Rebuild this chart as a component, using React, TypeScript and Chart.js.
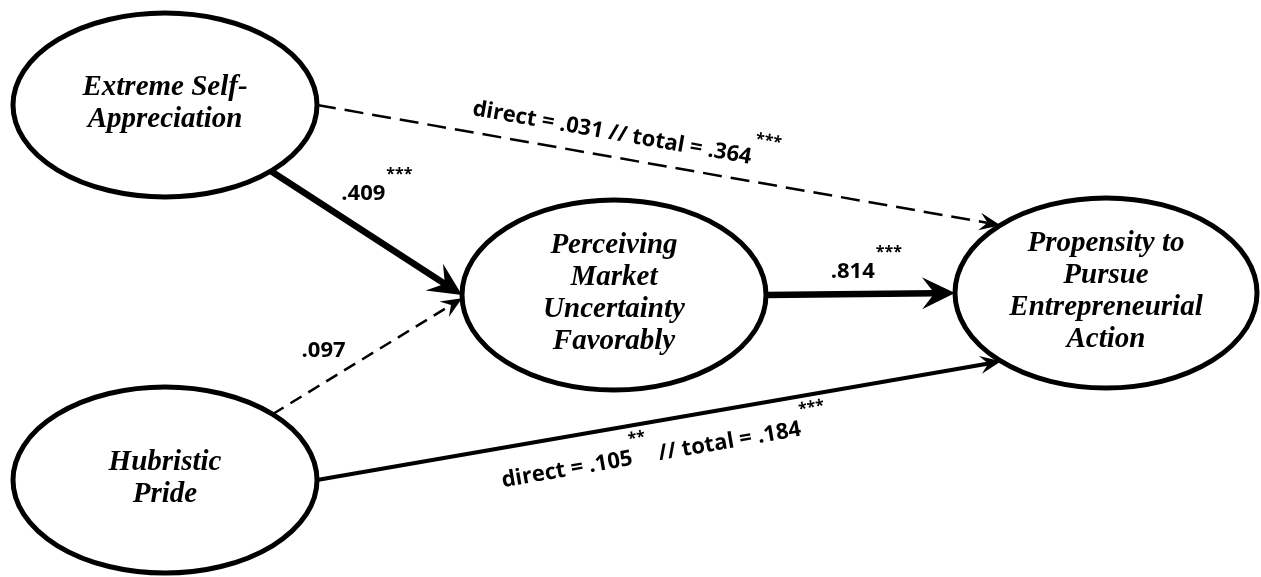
import React, { useEffect, useRef } from "react";
import { Chart, registerables } from "chart.js";

Chart.register(...registerables);

// Latent constructs of the path model
const nodeNames = [
  ["Extreme Self-", "Appreciation"],
  ["Perceiving", "Market", "Uncertainty", "Favorably"],
  ["Propensity to", "Pursue", "Entrepreneurial", "Action"],
  ["Hubristic", "Pride"],
];
const nodeX = [165, 614, 1106, 165];
const nodeY = [105, 295, 293, 480];
const nodeRx = [152, 152, 151, 152];
const nodeRy = [92, 95, 95, 93];

// Structural paths (source -> target) with standardized coefficients
const pathFrom = [0, 3, 1, 0, 3];
const pathTo = [1, 1, 2, 2, 2];
const directEffect = [0.409, 0.097, 0.814, 0.031, 0.105];
const directStars = ["***", "", "***", "", "**"];
const totalEffect: (number | null)[] = [null, null, null, 0.364, 0.184];
const totalStars = ["", "", "", "***", "***"];

// Where each path leaves / meets its ellipse (degrees, screen orientation)
const fromAngle = [45.9, -45, 0, 0, 0];
const toAngle = [180, 178, 180, 225.6, 134];

// Coefficient label placement along each path
const labelAt = [0.41, 0.33, 0.46, 0.222, 0.262];
const labelOffset = [26, 22, 16, 17, -39];
const labelAlong = [false, false, false, true, true];

const fmt = (v: number) => v.toFixed(3).replace(/^0/, "");

const NODE_FONT = 'bold italic 29px "Liberation Serif"';
const LABEL_FONT = 'bold 22px "Open Sans"';
const STAR_FONT = 'bold 16px "Open Sans"';

const pathDiagram = {
  id: "pathDiagram",
  afterDatasetsDraw(chart: any) {
    const { ctx, scales } = chart;
    const xs = scales.x;
    const ys = scales.y;
    const px = (v: number) => xs.getPixelForValue(v);
    const py = (v: number) => ys.getPixelForValue(v);

    const ell = nodeX.map((cx, i) => ({
      cx: px(cx),
      cy: py(nodeY[i]),
      rx: Math.abs(px(cx + nodeRx[i]) - px(cx)),
      ry: Math.abs(py(nodeY[i] + nodeRy[i]) - py(nodeY[i])),
    }));
    const onEllipse = (e: any, deg: number) => ({
      x: e.cx + e.rx * Math.cos((deg * Math.PI) / 180),
      y: e.cy + e.ry * Math.sin((deg * Math.PI) / 180),
    });

    const paths = pathFrom.map((f, i) => {
      const a = onEllipse(ell[f], fromAngle[i]);
      const b = onEllipse(ell[pathTo[i]], toAngle[i]);
      const dx = b.x - a.x;
      const dy = b.y - a.y;
      const len = Math.hypot(dx, dy);
      const u = { x: dx / len, y: dy / len };
      const n = { x: u.y, y: -u.x };
      const sig = directStars[i] !== "";
      const lw = !sig ? 2.5 : directEffect[i] > 0.3 ? 6.5 : 4;
      const dash = !sig ? (len > 400 ? [19, 9] : [13, 8]) : [];
      const headL = lw > 5 ? 33 : 21;
      const headW = lw > 5 ? 16 : 9;
      return { a, b, len, u, n, lw, dash, headL, headW };
    });

    ctx.save();
    ctx.strokeStyle = "#000";
    ctx.fillStyle = "#000";

    // path shafts
    paths.forEach((p) => {
      const end = {
        x: p.b.x - p.u.x * p.headL * 0.6,
        y: p.b.y - p.u.y * p.headL * 0.6,
      };
      ctx.beginPath();
      ctx.setLineDash(p.dash);
      ctx.lineWidth = p.lw;
      ctx.lineCap = "butt";
      ctx.moveTo(p.a.x, p.a.y);
      ctx.lineTo(end.x, end.y);
      ctx.stroke();
    });
    ctx.setLineDash([]);

    // construct ellipses
    ell.forEach((e) => {
      ctx.beginPath();
      ctx.ellipse(e.cx, e.cy, e.rx, e.ry, 0, 0, Math.PI * 2);
      ctx.fillStyle = "#fff";
      ctx.fill();
      ctx.lineWidth = 5;
      ctx.strokeStyle = "#000";
      ctx.stroke();
    });

    // stealth arrowheads
    ctx.fillStyle = "#000";
    paths.forEach((p) => {
      const { b, u, n, headL, headW } = p;
      ctx.beginPath();
      ctx.moveTo(b.x, b.y);
      ctx.lineTo(b.x - u.x * headL + n.x * headW, b.y - u.y * headL + n.y * headW);
      ctx.lineTo(b.x - u.x * headL * 0.62, b.y - u.y * headL * 0.62);
      ctx.lineTo(b.x - u.x * headL - n.x * headW, b.y - u.y * headL - n.y * headW);
      ctx.closePath();
      ctx.fill();
    });

    // construct names
    ctx.font = NODE_FONT;
    ctx.textAlign = "center";
    ctx.textBaseline = "middle";
    nodeNames.forEach((lines, i) => {
      const e = ell[i];
      lines.forEach((line, k) => {
        ctx.fillText(line, e.cx, e.cy + (k - (lines.length - 1) / 2) * 32 - 1);
      });
    });

    // coefficient labels
    ctx.textBaseline = "alphabetic";
    paths.forEach((p, i) => {
      const ax = p.a.x + p.u.x * p.len * labelAt[i] + p.n.x * labelOffset[i];
      const ay = p.a.y + p.u.y * p.len * labelAt[i] + p.n.y * labelOffset[i];
      const direct = (totalEffect[i] !== null ? "direct = " : "") + fmt(directEffect[i]);
      ctx.save();
      ctx.translate(ax, ay);
      if (labelAlong[i]) {
        ctx.rotate(Math.atan2(p.u.y, p.u.x));
        ctx.textAlign = "left";
        ctx.font = LABEL_FONT;
        let cur = 0;
        ctx.fillText(direct, cur, 0);
        cur += ctx.measureText(direct).width;
        if (directStars[i]) {
          ctx.font = STAR_FONT;
          ctx.fillText(directStars[i], cur - 1, -21);
          cur += ctx.measureText(directStars[i]).width + 9;
          ctx.font = LABEL_FONT;
        } else {
          cur += ctx.measureText(" ").width;
        }
        const total = "// total = " + fmt(totalEffect[i] as number);
        ctx.fillText(total, cur, 0);
        cur += ctx.measureText(total).width;
        if (totalStars[i]) {
          ctx.font = STAR_FONT;
          ctx.fillText(totalStars[i], cur + 1, -21);
        }
      } else {
        ctx.font = LABEL_FONT;
        ctx.textAlign = "center";
        ctx.fillText(direct, 0, 0);
        const w = ctx.measureText(direct).width;
        if (directStars[i]) {
          ctx.font = STAR_FONT;
          ctx.textAlign = "left";
          ctx.fillText(directStars[i], w / 2 + 1, -21);
        }
      }
      ctx.restore();
    });

    ctx.restore();
  },
};

export default function App() {
  const canvasRef = useRef<HTMLCanvasElement | null>(null);

  useEffect(() => {
    document.body.style.margin = "0";
    const canvas = canvasRef.current;
    if (!canvas) return;
    const chart = new Chart(canvas, {
      type: "scatter",
      data: {
        datasets: [
          {
            label: "constructs",
            data: nodeX.map((x, i) => ({ x, y: nodeY[i] })),
            pointRadius: 0,
            showLine: false,
          },
        ],
      },
      options: {
        animation: false,
        responsive: false,
        maintainAspectRatio: false,
        devicePixelRatio: 1,
        layout: { padding: 0 },
        events: [],
        plugins: {
          legend: { display: false },
          tooltip: { enabled: false },
          title: { display: false },
        },
        scales: {
          x: { type: "linear", min: 0, max: 1261, display: false },
          y: { type: "linear", min: 0, max: 577, reverse: true, display: false },
        },
      },
      plugins: [pathDiagram],
    });
    return () => chart.destroy();
  }, []);

  return (
    <div style={{ position: "fixed", left: 0, top: 0, width: 1261, height: 577, background: "#fff" }}>
      <canvas ref={canvasRef} width={1261} height={577} style={{ display: "block" }} />
    </div>
  );
}
